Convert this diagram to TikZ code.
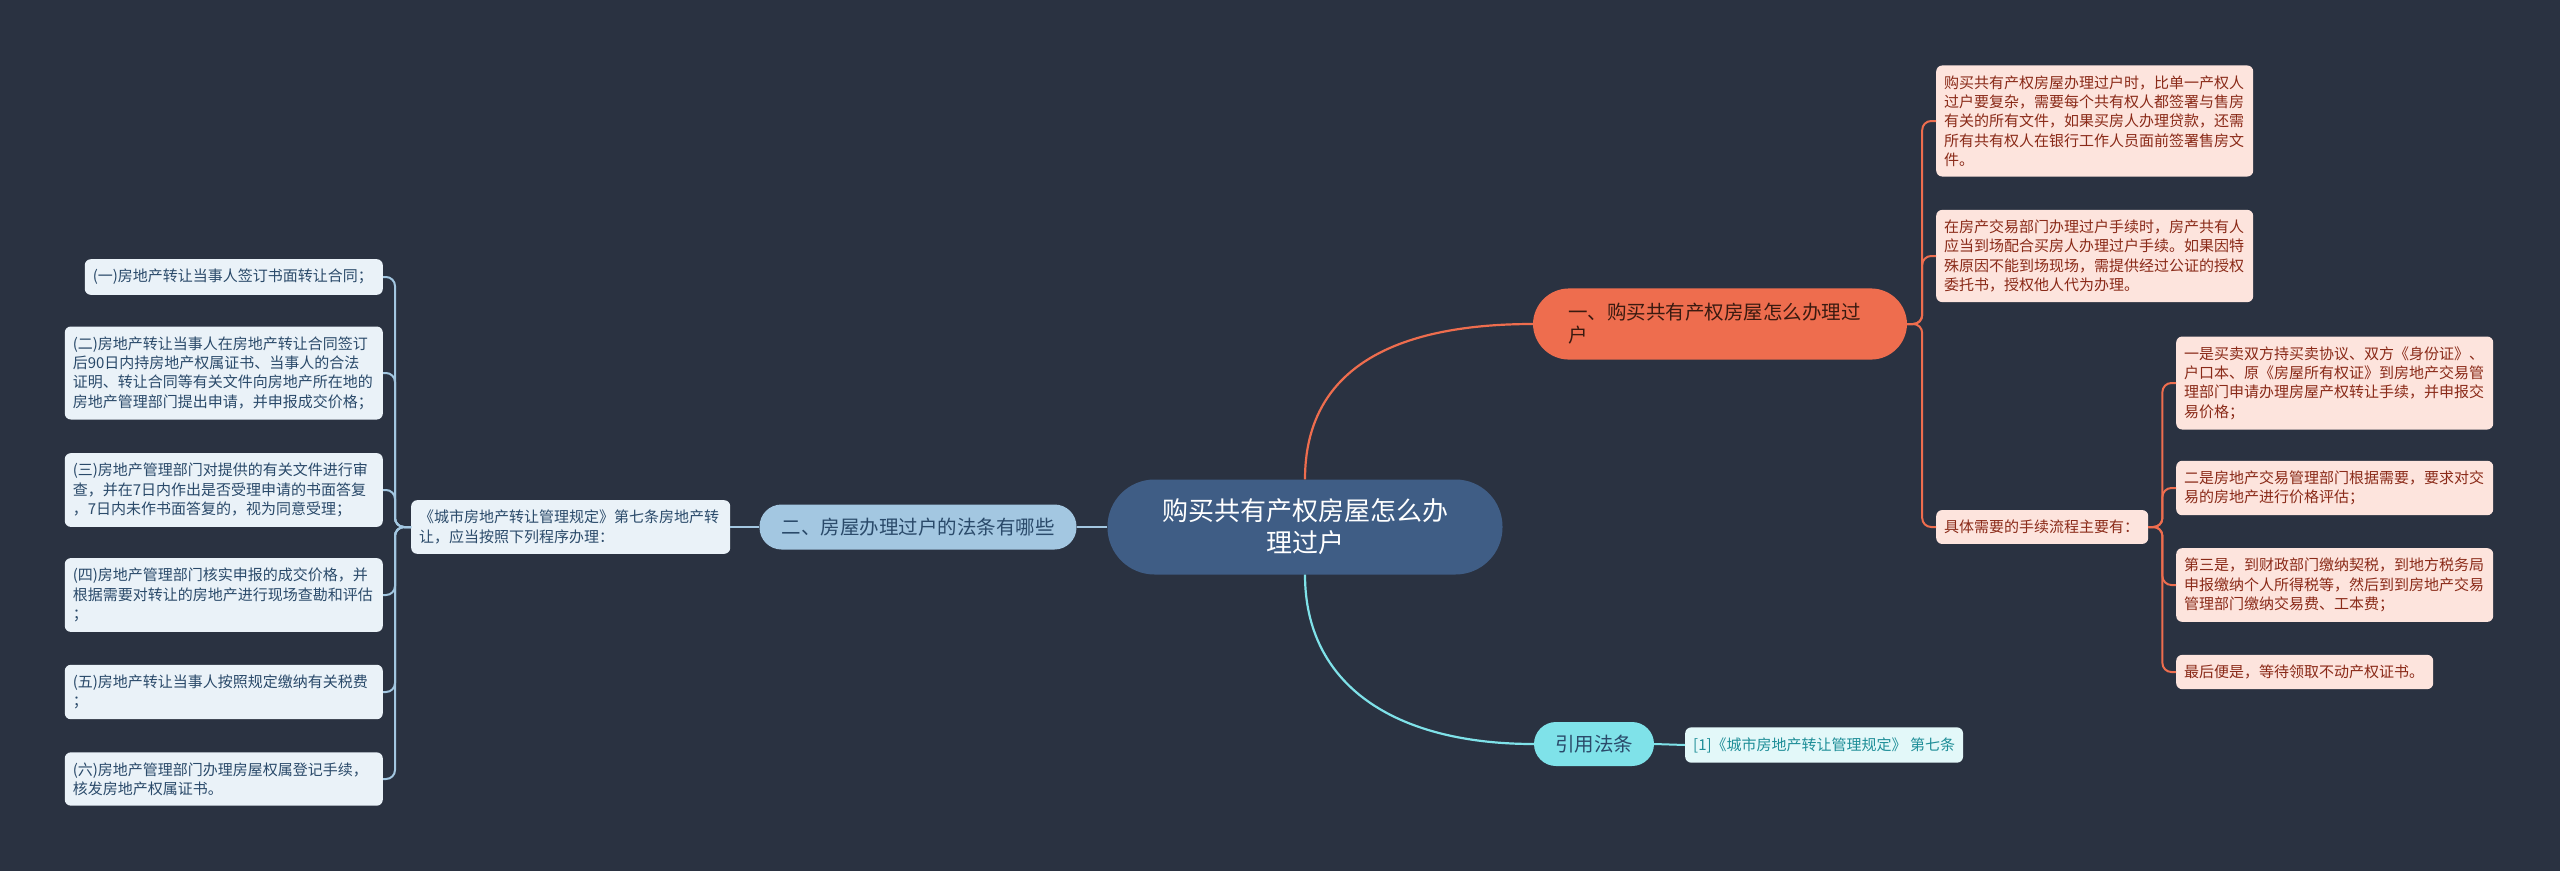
\documentclass[tikz,border=0pt]{standalone}
\usepackage{fontspec}
\setmainfont{Noto Sans CJK SC}
\definecolor{mBg}{HTML}{2A3241}
\definecolor{mRoot}{HTML}{3F5D85}
\definecolor{mOrange}{HTML}{EE6D4E}
\definecolor{mOrangeLeaf}{HTML}{FDE4DD}
\definecolor{mOrangeText}{HTML}{8A2A18}
\definecolor{mDarkText}{HTML}{3A1A10}
\definecolor{mBlue}{HTML}{A3C7E1}
\definecolor{mBlueLeaf}{HTML}{EAF2F8}
\definecolor{mBlueText}{HTML}{2A4A6A}
\definecolor{mCyan}{HTML}{7FE2E9}
\definecolor{mCyanLeaf}{HTML}{E3F8F9}
\definecolor{mCyanText}{HTML}{1E8E98}
\usepackage{tikz}
\usetikzlibrary{positioning}
\tikzset{
 leafbox/.style={rounded corners=6pt, inner xsep=8pt, inner ysep=10pt, align=left, font=\fontsize{15}{19.3}\selectfont},
 orleaf/.style={leafbox, fill=mOrangeLeaf, text=mOrangeText},
 blleaf/.style={leafbox, fill=mBlueLeaf, text=mBlueText},
 rootbox/.style={fill=mRoot, text=white, rounded corners=47pt, minimum width=395pt, minimum height=95pt, align=center, font=\fontsize{26}{32}\selectfont},
 conn/.style={line width=2.2pt},
 brack/.style={line width=2pt, rounded corners=9pt}
}

\begin{document}
\begin{tikzpicture}[x=1pt, y=-1pt]
\fill[mBg] (0,0) rectangle (2560,871);
% centre
\node[rootbox] (root) at (1305,527) {购买共有产权房屋怎么办\\理过户};
% branch one
\node[fill=mOrange, text=mDarkText, rounded corners=36pt, text width=304pt, inner xsep=35pt, inner ysep=15pt, align=left, font=\fontsize{19.5}{23}\selectfont] (b1) at (1720,324) {一、购买共有产权房屋怎么办理过\\户};
\node[orleaf, text width=301pt, anchor=west] (l1) at (1936,121) {购买共有产权房屋办理过户时，比单一产权人\\过户要复杂，需要每个共有权人都签署与售房\\有关的所有文件，如果买房人办理贷款，还需\\所有共有权人在银行工作人员面前签署售房文\\件。};
\node[orleaf, text width=301pt, anchor=west] (l2) at (1936,256) {在房产交易部门办理过户手续时，房产共有人\\应当到场配合买房人办理过户手续。如果因特\\殊原因不能到场现场，需提供经过公证的授权\\委托书，授权他人代为办理。};
\node[orleaf, text width=196pt, anchor=west] (l3) at (1936,527) {具体需要的手续流程主要有：};
\node[orleaf, text width=301pt, anchor=west] (s1) at (2176,383) {一是买卖双方持买卖协议、双方《身份证》、\\户口本、原《房屋所有权证》到房地产交易管\\理部门申请办理房屋产权转让手续，并申报交\\易价格；};
\node[orleaf, text width=301pt, anchor=west] (s2) at (2176,488) {二是房地产交易管理部门根据需要，要求对交\\易的房地产进行价格评估；};
\node[orleaf, text width=301pt, anchor=west] (s3) at (2176,585) {第三是，到财政部门缴纳契税，到地方税务局\\申报缴纳个人所得税等，然后到到房地产交易\\管理部门缴纳交易费、工本费；};
\node[orleaf, text width=241pt, anchor=west] (s4) at (2176,672) {最后便是，等待领取不动产权证书。};
% branch two
\node[fill=mBlue, text=mBlueText, rounded corners=22pt, inner xsep=22pt, minimum height=45pt, font=\fontsize{19.5}{23}\selectfont] (b2) at (918,527) {二、房屋办理过户的法条有哪些};
\node[blleaf, text width=303pt, anchor=west] (mid) at (411,527) {《城市房地产转让管理规定》第七条房地产转\\让，应当按照下列程序办理：};
\node[blleaf, text width=282pt, anchor=east] (c1) at (383,277) {(一)房地产转让当事人签订书面转让合同；};
\node[blleaf, text width=302pt, anchor=east] (c2) at (383,373) {(二)房地产转让当事人在房地产转让合同签订\\后90日内持房地产权属证书、当事人的合法\\证明、转让合同等有关文件向房地产所在地的\\房地产管理部门提出申请，并申报成交价格；};
\node[blleaf, text width=302pt, anchor=east] (c3) at (383,490) {(三)房地产管理部门对提供的有关文件进行审\\查，并在7日内作出是否受理申请的书面答复\\，7日内未作书面答复的，视为同意受理；};
\node[blleaf, text width=302pt, anchor=east] (c4) at (383,595) {(四)房地产管理部门核实申报的成交价格，并\\根据需要对转让的房地产进行现场查勘和评估\\；};
\node[blleaf, text width=302pt, anchor=east] (c5) at (383,692) {(五)房地产转让当事人按照规定缴纳有关税费\\；};
\node[blleaf, text width=302pt, anchor=east] (c6) at (383,779) {(六)房地产管理部门办理房屋权属登记手续，\\核发房地产权属证书。};
% branch three
\node[fill=mCyan, text=mBlueText, rounded corners=22pt, inner xsep=21pt, minimum height=44pt, font=\fontsize{19.5}{23}\selectfont] (b3) at (1594,744) {引用法条};
\node[leafbox, fill=mCyanLeaf, text=mCyanText, anchor=west] (ref) at (1685,745) {[1]《城市房地产转让管理规定》 第七条};
% connectors
\draw[conn, mOrange] (root.north) .. controls +(0,-110) and +(-140,0) .. (b1.west);
\draw[conn, mBlue] (root.west) -- (b2.east);
\draw[conn, mCyan] (root.south) .. controls +(0,110) and +(-140,0) .. (b3.west);
\draw[brack, mOrange] (b1.east) -- ++(15,0) |- (l1.west);
\draw[brack, mOrange] (b1.east) -- ++(15,0) |- (l2.west);
\draw[brack, mOrange] (b1.east) -- ++(15,0) |- (l3.west);
\draw[brack, mOrange] (l3.east) -- ++(14,0) |- (s1.west);
\draw[brack, mOrange] (l3.east) -- ++(14,0) |- (s2.west);
\draw[brack, mOrange] (l3.east) -- ++(14,0) |- (s3.west);
\draw[brack, mOrange] (l3.east) -- ++(14,0) |- (s4.west);
\draw[brack, mBlue] (b2.west) -- (mid.east);
\draw[brack, mBlue] (mid.west) -- ++(-16,0) |- (c1.east);
\draw[brack, mBlue] (mid.west) -- ++(-16,0) |- (c2.east);
\draw[brack, mBlue] (mid.west) -- ++(-16,0) |- (c3.east);
\draw[brack, mBlue] (mid.west) -- ++(-16,0) |- (c4.east);
\draw[brack, mBlue] (mid.west) -- ++(-16,0) |- (c5.east);
\draw[brack, mBlue] (mid.west) -- ++(-16,0) |- (c6.east);
\draw[brack, mCyan] (b3.east) -- (ref.west);
\end{tikzpicture}
\end{document}
